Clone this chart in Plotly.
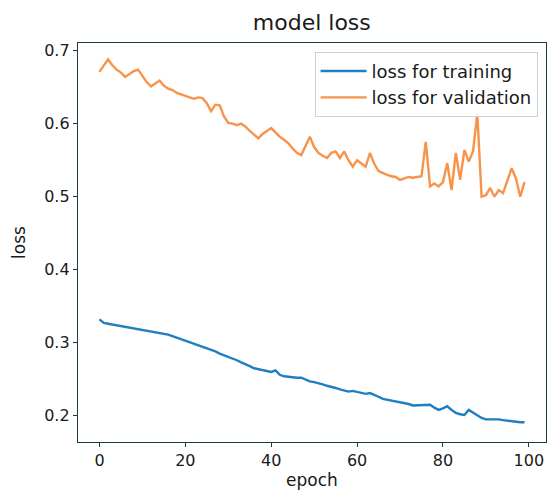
import plotly.graph_objects as go

epochs = list(range(100))

loss_training = [
    0.332, 0.327, 0.326, 0.325, 0.324, 0.323, 0.322, 0.321, 0.320, 0.319,
    0.318, 0.317, 0.316, 0.315, 0.314, 0.312, 0.311, 0.309, 0.307, 0.305,
    0.303, 0.301, 0.299, 0.297, 0.295, 0.293, 0.290, 0.288, 0.285, 0.283,
    0.281, 0.278, 0.276, 0.273, 0.271, 0.268, 0.265, 0.264, 0.262, 0.261,
    0.260, 0.262, 0.256, 0.254, 0.253, 0.253, 0.252, 0.252, 0.249, 0.247,
    0.246, 0.245, 0.243, 0.241, 0.240, 0.238, 0.236, 0.234, 0.233, 0.234,
    0.233, 0.231, 0.230, 0.231, 0.229, 0.226, 0.223, 0.222, 0.220, 0.219,
    0.218, 0.217, 0.216, 0.214, 0.214, 0.214, 0.214, 0.215, 0.211, 0.208,
    0.210, 0.213, 0.208, 0.204, 0.202, 0.201, 0.208, 0.204, 0.200, 0.197,
    0.195, 0.195, 0.196, 0.195, 0.194, 0.193, 0.192, 0.191, 0.191, 0.191,
]

loss_validation = [
    0.671, 0.680, 0.688, 0.680, 0.674, 0.670, 0.664, 0.668, 0.672, 0.674,
    0.665, 0.657, 0.651, 0.655, 0.659, 0.652, 0.648, 0.646, 0.642, 0.640,
    0.638, 0.637, 0.634, 0.636, 0.635, 0.628, 0.617, 0.626, 0.625, 0.610,
    0.601, 0.600, 0.598, 0.600, 0.596, 0.590, 0.585, 0.580, 0.586, 0.590,
    0.594, 0.588, 0.582, 0.578, 0.573, 0.566, 0.560, 0.557, 0.570, 0.582,
    0.568, 0.560, 0.556, 0.553, 0.560, 0.562, 0.553, 0.562, 0.550, 0.541,
    0.550, 0.545, 0.541, 0.560, 0.545, 0.535, 0.532, 0.530, 0.528, 0.527,
    0.523, 0.525, 0.527, 0.526, 0.527, 0.528, 0.575, 0.514, 0.518, 0.514,
    0.520, 0.546, 0.509, 0.560, 0.523, 0.564, 0.548, 0.562, 0.614, 0.500,
    0.502, 0.512, 0.500, 0.509, 0.505, 0.523, 0.539, 0.525, 0.500, 0.520,
]

x_ticks = [0, 20, 40, 60, 80, 100]
y_ticks = [0.2, 0.3, 0.4, 0.5, 0.6, 0.7]

FONT = "DejaVu Sans"
TXT = "#1a1a1a"

fig = go.Figure()
fig.add_trace(go.Scatter(x=epochs, y=loss_training, mode="lines",
                         name="loss for training",
                         line=dict(color="#1f7fc0", width=2.4)))
fig.add_trace(go.Scatter(x=epochs, y=loss_validation, mode="lines",
                         name="loss for validation",
                         line=dict(color="#f9924a", width=2.4)))

axis_common = dict(showgrid=False, zeroline=False, showline=True, mirror=True,
                   linecolor="#1a3a40", linewidth=1.3, ticks="outside",
                   ticklen=4, tickwidth=1, tickcolor="#1a3a40",
                   tickfont=dict(family=FONT, size=16, color=TXT))

fig.update_layout(
    width=547, height=503,
    margin=dict(l=78, r=1, t=43, b=61),
    paper_bgcolor="white", plot_bgcolor="white",
    title=dict(text="model loss", x=0.57, xanchor="center", y=1 - 22 / 503,
               yanchor="middle", yref="container",
               font=dict(family=FONT, size=22, color=TXT)),
    xaxis=dict(range=[-5.0, 104.0], tickvals=x_ticks,
               title=dict(text="epoch", standoff=4,
                          font=dict(family=FONT, size=17, color=TXT)),
               **axis_common),
    yaxis=dict(range=[0.164, 0.7105], tickvals=y_ticks, tickformat=".1f",
               title=dict(text="loss", standoff=14,
                          font=dict(family=FONT, size=17, color=TXT)),
               **axis_common),
    legend=dict(x=0.982, y=0.978, xanchor="right", yanchor="top",
                bgcolor="rgba(255,255,255,0.9)", bordercolor="#c8d4d8",
                borderwidth=1, font=dict(family=FONT, size=18, color=TXT),
                tracegroupgap=0, itemwidth=46),
    showlegend=True,
)

fig.write_html("out.html")
